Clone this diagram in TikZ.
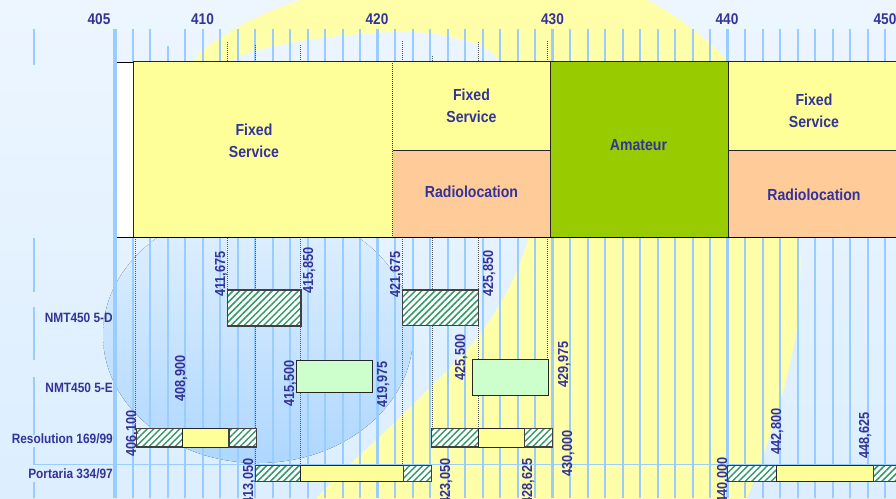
\documentclass[tikz,border=0pt]{standalone}
\usepackage{fontspec}
\newfontfamily\lsans[FakeStretch=0.88]{Liberation Sans}
\usetikzlibrary{patterns.meta}
\definecolor{tblue}{HTML}{333399}
\definecolor{gridc}{HTML}{99CCFF}
\definecolor{ringy}{HTML}{FFFFAA}
\definecolor{fixedc}{HTML}{FFFF99}
\definecolor{radioc}{HTML}{FFCC99}
\definecolor{amac}{HTML}{99CC00}
\definecolor{lgreen}{HTML}{CCFFCC}
\definecolor{hatchg}{HTML}{339966}
\definecolor{bgtop}{HTML}{EDF6FF}
\definecolor{bgbot}{HTML}{DCEEFF}
\definecolor{disctop}{HTML}{E2F1FF}
\definecolor{discbot}{HTML}{AED7FF}
\definecolor{dotc}{HTML}{555555}
\begin{document}
\begin{tikzpicture}[x=1pt,y=-1pt,
  gridline/.style={draw=gridc,line width=1.6pt},
  gridthick/.style={draw=gridc,line width=2.6pt},
  dotline/.style={draw=dotc,line width=0.6pt,dash pattern=on 0.8pt off 1.2pt},
  bline/.style={draw=black!85,line width=1pt},
  hatchbox/.style={preaction={fill=white},pattern={Lines[angle=45,distance=4.6pt,line width=1.5pt]},pattern color=hatchg,draw=black!75,line width=1.1pt},
  ybox/.style={fill=fixedc,draw=black!85,line width=1pt},
  gbox/.style={fill=lgreen,draw=black!85,line width=1pt},
  axislab/.style={font=\lsans\bfseries\fontsize{15.5}{18}\selectfont,text=tblue,inner sep=0pt},
  rowlab/.style={font=\lsans\bfseries\fontsize{13.5}{16}\selectfont,text=tblue,anchor=base east,inner sep=0pt},
  boxlab/.style={font=\lsans\bfseries\fontsize{16}{20}\selectfont,text=tblue,anchor=base,inner sep=0pt},
  vlab/.style={font=\lsans\bfseries\fontsize{14.5}{16}\selectfont,text=tblue,rotate=90,anchor=base west,inner sep=0pt}]
\useasboundingbox (0,0) rectangle (896,498);
\clip (0,0) rectangle (896,498);
% background
\fill[top color=bgtop,middle color=white,bottom color=bgbot] (0,0) rectangle (896,498);
\fill[ringy] plot[smooth,tension=0.6] coordinates {(205,100) (194,61) (240,26) (300,0) (380,-25) (470,-32) (560,-22) (647,0) (727,61) (770,140) (797,230) (800,285) (795,340) (775,420) (747,498) (720,545)}
  -- plot[smooth,tension=0.6] coordinates {(300,545) (317,498) (400,417) (483,330) (528,240) (535,150) (500,61) (450,37) (400,32) (340,36) (280,45) (233,61) (225,100)} -- cycle;
\fill[top color=disctop,bottom color=discbot] (258,335) ellipse [x radius=155,y radius=128];
% grid
\foreach \k in {1,2,4,5,6,7,8,9,10,11,12,13,14,16,17,18,19,20,21,22,23,24,26,27,28,29,30,31,32,33,34,36,37,38,39,40,41,42,43,44}
  \draw[gridline] ({115.2+17.5*\k},29) -- ({115.2+17.5*\k},498);
\draw[gridline] ({115.2+17.5*3},46) -- ({115.2+17.5*3},498);
\foreach \k in {15,25,35}
  \draw[gridthick] ({115.2+17.5*\k},29) -- ({115.2+17.5*\k},498);
\draw[draw=gridc,line width=3.3pt] (115,29) -- (115,498);
\draw[gridline] (34,29) -- (34,65) (34,238) -- (34,292) (34,307) -- (34,360) (34,377) -- (34,435) (34,447) -- (34,465) (34,482) -- (34,498);
\draw[gridline] (34,464.5) -- (896,464.5);
% dotted guide lines
\draw[dotline] (135.7,237) -- (135.7,428);
\draw[dotline] (227.5,42) -- (227.5,290);
\draw[dotline] (255.5,45) -- (255.5,465);
\draw[dotline] (300.7,45) -- (300.7,465);
\draw[dotline] (402.5,41) -- (402.5,465);
\draw[dotline] (432.3,56) -- (432.3,428);
\draw[dotline] (478.5,42) -- (478.5,428);
\draw[dotline] (547.5,41) -- (547.5,359);
% allocation table
\fill[white] (117,62.5) rectangle (133,237.5);
\fill[fixedc] (133,61) rectangle (392.7,237.5);
\fill[fixedc] (392.7,61) rectangle (550.7,150);
\fill[radioc] (392.7,150) rectangle (550.7,237.5);
\fill[amac] (550.7,61) rectangle (728.7,237.5);
\fill[fixedc] (728.7,61) rectangle (897,150);
\fill[radioc] (728.7,150) rectangle (897,237.5);
\draw[bline] (133,237.5) -- (133,61) -- (897,61);
\draw[bline] (392.7,150) -- (550.7,150) (728.7,150) -- (897,150);
\draw[bline] (550.7,61) -- (550.7,237.5) (728.7,61) -- (728.7,237.5);
\draw[draw=black!80,line width=0.9pt,dash pattern=on 1pt off 1pt] (392.7,61) -- (392.7,237.5);
\draw[line width=1.3pt] (117,62.5) -- (133,62.5);
\draw[line width=1.8pt] (117,237.5) -- (897,237.5);
% NMT450 5-D
\draw[hatchbox] (227.7,290) rectangle (301,326);
\draw[hatchbox] (402.5,290) rectangle (478.7,325.5);
% NMT450 5-E
\draw[gbox] (296.7,360.7) rectangle (372.7,392.3);
\draw[gbox] (472.7,359.5) rectangle (548.3,395.7);
% Resolution 169/99
\draw[hatchbox] (136.7,428.3) rectangle (182.3,447);
\draw[ybox] (182.3,428.3) rectangle (229,447);
\draw[hatchbox] (229,428.3) rectangle (256.7,447);
\draw[hatchbox] (431.7,428.3) rectangle (478.7,447);
\draw[ybox] (478.7,428.3) rectangle (524.3,447);
\draw[hatchbox] (524.3,428.3) rectangle (552.3,447);
% Portaria 334/97
\draw[hatchbox] (255.7,465.5) rectangle (300.7,481.5);
\draw[ybox] (300.7,465.5) rectangle (403.3,481.5);
\draw[hatchbox] (403.3,465.5) rectangle (431.7,481.5);
\draw[hatchbox] (727.3,465.5) rectangle (776.7,481.5);
\draw[ybox] (776.7,465.5) rectangle (873.3,481.5);
\draw[hatchbox] (873.3,465.5) rectangle (905,481.5);
% axis labels
\node[axislab] (a405) at (99,19.5) {405};
\node[axislab] (a410) at (202.5,19.5) {410};
\node[axislab] (a420) at (377,19.5) {420};
\node[axislab] (a430) at (552.5,19.5) {430};
\node[axislab] (a440) at (727,19.5) {440};
\node[axislab] (a450) at (885,19.5) {450};
% band labels
\node[boxlab] (fs1a) at (254,135) {Fixed};
\node[boxlab] (fs1b) at (254,157) {Service};
\node[boxlab] (fs2a) at (471.5,100) {Fixed};
\node[boxlab] (fs2b) at (471.5,122) {Service};
\node[boxlab] (rl1) at (471.5,197) {Radiolocation};
\node[boxlab] (am) at (638.5,150) {Amateur};
\node[boxlab] (fs3a) at (814,105) {Fixed};
\node[boxlab] (fs3b) at (814,127) {Service};
\node[boxlab] (rl2) at (814,200) {Radiolocation};
% row labels
\node[rowlab] (r1) at (113,322) {NMT450 5-D};
\node[rowlab] (r2) at (113,392) {NMT450 5-E};
\node[rowlab] (r3) at (113,443) {Resolution 169/99};
\node[rowlab] (r4) at (113,478) {Portaria 334/97};
% frequency labels (the lowest ones run off the lower edge, as in the original)
\node[vlab] (v1) at (225,297) {411,675};
\node[vlab] (v2) at (313,294) {415,850};
\node[vlab] (v3) at (400,298) {421,675};
\node[vlab] (v4) at (493,297) {425,850};
\node[vlab] (v5) at (185,402) {408,900};
\node[vlab] (v6) at (294,407) {415,500};
\node[vlab] (v7) at (387,408) {419,975};
\node[vlab] (v8) at (465,381) {425,500};
\node[vlab] (v9) at (568,388) {429,975};
\node[vlab] (v10) at (136,457) {406,100};
\node[vlab] (v11) at (572,477) {430,000};
\node[vlab] (v12) at (253,505) {413,050};
\node[vlab] (v13) at (450,505) {423,050};
\node[vlab] (v14) at (532,505) {428,625};
\node[vlab] (v15) at (727,504) {440,000};
\node[vlab] (v16) at (781,455) {442,800};
\node[vlab] (v17) at (869,459) {448,625};
\end{tikzpicture}
\end{document}
